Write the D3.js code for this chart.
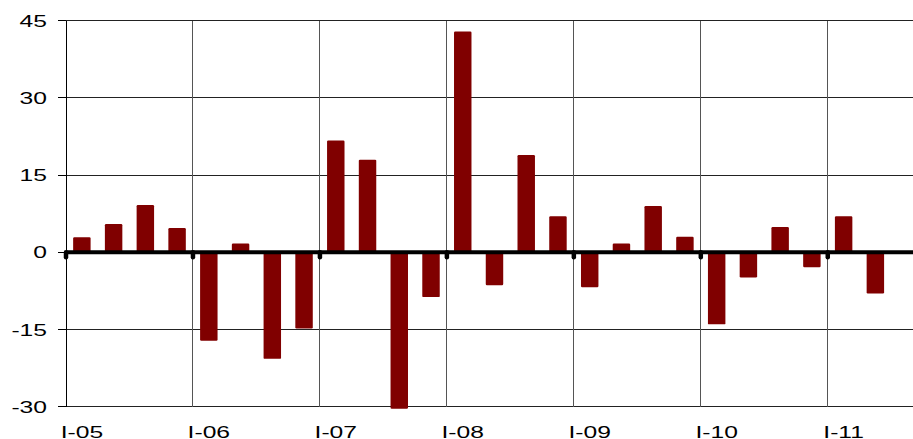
<!DOCTYPE html>
<html>
<head>
<meta charset="utf-8">
<script src="https://cdn.jsdelivr.net/npm/d3@7"></script>
<style>
  html, body { margin: 0; padding: 0; background: #fff; overflow: hidden; }
  svg { display: block; }
  text { font-family: "Liberation Sans", Arial, sans-serif; font-size: 17px; fill: #000; }
</style>
</head>
<body>
<svg id="chart" width="913" height="439"></svg>
<script>
const categories = [
  "I-05","II-05","III-05","IV-05",
  "I-06","II-06","III-06","IV-06",
  "I-07","II-07","III-07","IV-07",
  "I-08","II-08","III-08","IV-08",
  "I-09","II-09","III-09","IV-09",
  "I-10","II-10","III-10","IV-10",
  "I-11","II-11"
];
const values = [
  2.9, 5.5, 9.2, 4.7,
  -17.2, 1.7, -20.7, -14.8,
  21.7, 18.0, -30.4, -8.7,
  42.9, -6.4, 18.9, 7.0,
  -6.8, 1.7, 9.0, 3.0,
  -14.0, -4.9, 4.9, -2.9,
  7.0, -8.0
];
const yTicks = [-30, -15, 0, 15, 30, 45];
const xTickLabels = ["I-05","I-06","I-07","I-08","I-09","I-10","I-11"];

const W = 913, H = 439;
const left = 66, bandW = 31.74;
const svg = d3.select("#chart");

const x = d3.scaleBand().domain(categories).range([left, left + categories.length * bandW]).padding(0);
const y = d3.scaleLinear().domain([-30, 45]).range([406.7, 20.7]);
const barW = x.bandwidth() * 0.55;
const sx = 1.45;

// horizontal gridlines
svg.append("g").selectAll("line").data(yTicks.filter(d => d !== 0)).join("line")
  .attr("x1", left).attr("x2", W)
  .attr("y1", d => y(d)).attr("y2", d => y(d))
  .attr("stroke", "#222").attr("stroke-width", 1).attr("shape-rendering", "crispEdges");

// vertical year gridlines
svg.append("g").selectAll("line").data(xTickLabels.slice(1)).join("line")
  .attr("x1", d => x(d)).attr("x2", d => x(d))
  .attr("y1", y(45)).attr("y2", y(-30))
  .attr("stroke", "#555").attr("stroke-width", 1).attr("shape-rendering", "crispEdges");

// left axis line + ticks
svg.append("line").attr("x1", left).attr("x2", left).attr("y1", y(45)).attr("y2", y(-30))
  .attr("stroke", "#000").attr("stroke-width", 1).attr("shape-rendering", "crispEdges");
svg.append("g").selectAll("line").data(yTicks).join("line")
  .attr("x1", left - 8).attr("x2", left)
  .attr("y1", d => y(d)).attr("y2", d => y(d))
  .attr("stroke", "#000").attr("stroke-width", 1).attr("shape-rendering", "crispEdges");

// y labels
svg.append("g").selectAll("text").data(yTicks).join("text")
  .attr("transform", d => `translate(47,${y(d)}) scale(${sx},1)`)
  .attr("text-anchor", "end").attr("dy", "0.36em")
  .text(d => d);

// bars
svg.append("g").selectAll("rect").data(values).join("rect")
  .attr("x", (d, i) => x(categories[i]) + (x.bandwidth() - barW) / 2)
  .attr("width", barW)
  .attr("y", d => y(Math.max(0, d)))
  .attr("height", d => Math.abs(y(d) - y(0)))
  .attr("rx", 1.2)
  .attr("fill", "#800000");

// zero line
svg.append("line").attr("x1", left).attr("x2", W).attr("y1", y(0)).attr("y2", y(0))
  .attr("stroke", "#000").attr("stroke-width", 4);

// year tick marks on zero line
svg.append("g").selectAll("line").data(xTickLabels).join("line")
  .attr("x1", d => x(d)).attr("x2", d => x(d))
  .attr("y1", y(0)).attr("y2", y(0) + 5)
  .attr("stroke", "#000").attr("stroke-width", 4.5).attr("stroke-linecap", "round");

// x labels
svg.append("g").selectAll("text").data(xTickLabels).join("text")
  .attr("transform", d => `translate(${x(d) + x.bandwidth() / 2},438) scale(${sx},1)`)
  .attr("text-anchor", "middle")
  .text(d => d);
</script>
</body>
</html>
